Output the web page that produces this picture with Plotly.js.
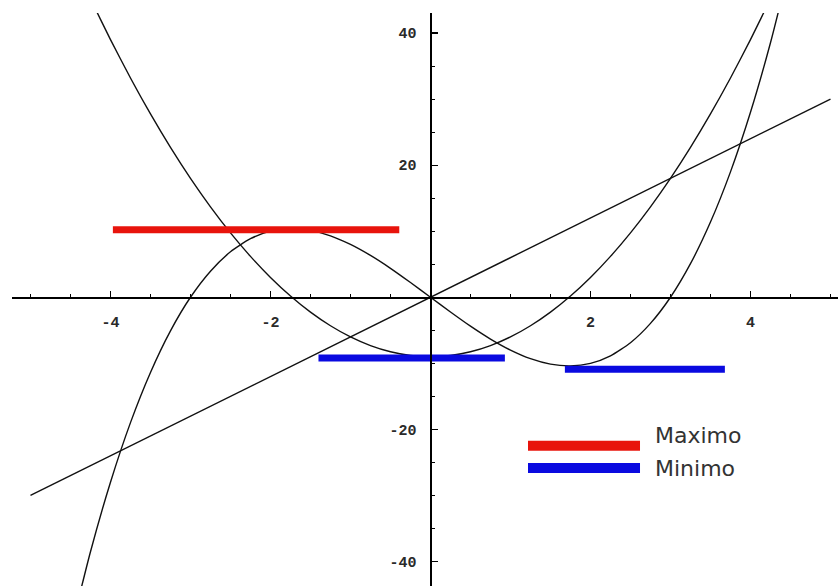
<!DOCTYPE html>
<html>
<head>
<meta charset="utf-8">
<script src="https://cdn.plot.ly/plotly-3.0.1.min.js"></script>
<style>
  html, body { margin: 0; padding: 0; background: #ffffff; }
  #chart { width: 838px; height: 586px; }
</style>
</head>
<body>
<div id="chart"></div>
<script>
// Cubic curve samples
const cubicX = [-4.5, -4.25, -4.0, -3.75, -3.5, -3.25, -3.0, -2.75, -2.5, -2.25, -2.0, -1.75, -1.5, -1.25, -1.0, -0.75, -0.5, -0.25,
                0, 0.25, 0.5, 0.75, 1.0, 1.25, 1.5, 1.75, 2.0, 2.25, 2.5, 2.75, 3.0, 3.25, 3.5, 3.75, 4.0, 4.25, 4.5];
const cubicY = [-50.63, -38.52, -28.0, -18.98, -11.38, -5.08, 0, 3.95, 6.88, 8.86, 10.0, 10.39, 10.13, 9.30, 8.0, 6.33, 4.38, 2.23,
                0, -2.23, -4.38, -6.33, -8.0, -9.30, -10.13, -10.39, -10.0, -8.86, -6.88, -3.95, 0, 5.08, 11.38, 18.98, 28.0, 38.52, 50.63];

// Parabola samples
const parabX = [-4.5, -4.25, -4.0, -3.75, -3.5, -3.25, -3.0, -2.75, -2.5, -2.25, -2.0, -1.75, -1.5, -1.25, -1.0, -0.75, -0.5, -0.25,
                0, 0.25, 0.5, 0.75, 1.0, 1.25, 1.5, 1.75, 2.0, 2.25, 2.5, 2.75, 3.0, 3.25, 3.5, 3.75, 4.0, 4.25, 4.5];
const parabY = [51.75, 45.19, 39.0, 33.19, 27.75, 22.69, 18.0, 13.69, 9.75, 6.19, 3.0, 0.19, -2.25, -4.31, -6.0, -7.31, -8.25, -8.81,
                -9.0, -8.81, -8.25, -7.31, -6.0, -4.31, -2.25, 0.19, 3.0, 6.19, 9.75, 13.69, 18.0, 22.69, 27.75, 33.19, 39.0, 45.19, 51.75];

// Straight line through the origin
const lineX = [-5, 5];
const lineY = [-30, 30];

// Highlighted levels: maximum (red) and minima (blue)
const maxX = [-3.97, -0.39];
const maxY = [10.2, 10.2];
const minX = [-1.40, 0.93, null, 1.68, 3.68];
const minY = [-9.2, -9.2, null, -10.9, -10.9];

// Axis tick labels
const xTickVals = [-4, -2, 2, 4];
const xTickText = ['-4', '-2', '2', '4'];
const yTickVals = [-40, -20, 20, 40];
const yTickText = ['-40', '-20', '20', '40'];

// Legend labels
const legendNames = ['Maximo', 'Minimo'];

const xRange = [-5.231, 5.094];
const yRange = [-43.71, 43.03];

function steps(lo, hi, d) {
  const out = [];
  for (let v = lo; v <= hi + 1e-9; v += d) out.push(Math.round(v * 1000) / 1000);
  return out;
}

const curveLine = { color: '#111111', width: 1.4, shape: 'spline', smoothing: 0.6 };

const traces = [
  { x: cubicX, y: cubicY, type: 'scatter', mode: 'lines', line: curveLine, hoverinfo: 'skip' },
  { x: parabX, y: parabY, type: 'scatter', mode: 'lines', line: curveLine, hoverinfo: 'skip' },
  { x: lineX, y: lineY, type: 'scatter', mode: 'lines', line: { color: '#111111', width: 1.4 }, hoverinfo: 'skip' },
  { x: maxX, y: maxY, type: 'scatter', mode: 'lines', line: { color: '#e8140c', width: 7 }, hoverinfo: 'skip', connectgaps: false },
  { x: minX, y: minY, type: 'scatter', mode: 'lines', line: { color: '#0a0ae0', width: 7 }, hoverinfo: 'skip', connectgaps: false }
];

const tickFont = { family: 'Liberation Mono, DejaVu Sans Mono, monospace', size: 15, color: '#2a2a2a', weight: 'bold' };

const layout = {
  width: 838,
  height: 586,
  margin: { l: 12, r: 0, t: 13, b: 0, pad: 0 },
  paper_bgcolor: '#ffffff',
  plot_bgcolor: '#ffffff',
  showlegend: false,
  xaxis: {
    range: xRange,
    anchor: 'free',
    position: (0 - yRange[0]) / (yRange[1] - yRange[0]),
    showline: true, linecolor: '#000000', linewidth: 1.6,
    showgrid: false, zeroline: false,
    tickmode: 'array', tickvals: xTickVals, ticktext: xTickText,
    ticks: 'inside', ticklen: 6, tickwidth: 1.2, tickcolor: '#000000',
    ticklabelstandoff: 10,
    tickfont: tickFont,
    minor: { tickmode: 'array', tickvals: steps(-5, 5, 0.5), ticks: 'inside', ticklen: 3, tickwidth: 1, tickcolor: '#000000', showgrid: false },
    fixedrange: true
  },
  yaxis: {
    range: yRange,
    anchor: 'free',
    position: (0 - xRange[0]) / (xRange[1] - xRange[0]),
    showline: true, linecolor: '#000000', linewidth: 1.6,
    showgrid: false, zeroline: false,
    tickmode: 'array', tickvals: yTickVals, ticktext: yTickText,
    ticks: 'inside', ticklen: 6, tickwidth: 1.2, tickcolor: '#000000',
    ticklabelstandoff: 11,
    tickfont: tickFont,
    minor: { tickmode: 'array', tickvals: steps(-40, 40, 5), ticks: 'inside', ticklen: 3, tickwidth: 1, tickcolor: '#000000', showgrid: false },
    fixedrange: true
  },
  shapes: [
    { type: 'line', xref: 'paper', yref: 'paper', x0: 0.6247, x1: 0.7603, y0: 0.2449, y1: 0.2449, line: { color: '#e8140c', width: 10 } },
    { type: 'line', xref: 'paper', yref: 'paper', x0: 0.6247, x1: 0.7603, y0: 0.2059, y1: 0.2059, line: { color: '#0a0ae0', width: 10 } }
  ],
  annotations: [
    { xref: 'paper', yref: 'paper', x: 0.776, y: 0.2618, xanchor: 'left', yanchor: 'middle', showarrow: false,
      text: legendNames[0], font: { family: 'DejaVu Sans, sans-serif', size: 22, color: '#333333' } },
    { xref: 'paper', yref: 'paper', x: 0.776, y: 0.2042, xanchor: 'left', yanchor: 'middle', showarrow: false,
      text: legendNames[1], font: { family: 'DejaVu Sans, sans-serif', size: 22, color: '#333333' } }
  ]
};

Plotly.newPlot('chart', traces, layout, { staticPlot: true, displayModeBar: false });
</script>
</body>
</html>
